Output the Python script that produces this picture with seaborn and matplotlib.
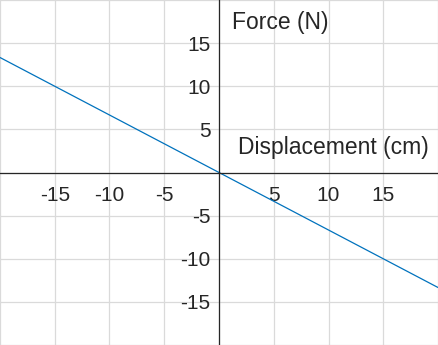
import matplotlib
matplotlib.use("Agg")
import matplotlib.pyplot as plt
import seaborn as sns
import pandas as pd
from matplotlib.ticker import FixedLocator, FuncFormatter

# Data
displacement_cm = [-20, 20]
force_N = [13.333, -13.333]
tick_values = [-15, -10, -5, 5, 10, 15]
x_label = "Displacement (cm)"
y_label = "Force (N)"

sns.set_theme(style="white")
plt.rcParams['font.family'] = ['Liberation Sans', 'DejaVu Sans']
plt.rcParams['axes.unicode_minus'] = False

df = pd.DataFrame({"x": displacement_cm, "y": force_N})

fig = plt.figure(figsize=(4.38, 3.45), dpi=100)
ax = fig.add_axes([0, 0, 1, 1])
sns.lineplot(data=df, x="x", y="y", ax=ax, color="#0072BD", linewidth=0.9)

ax.set_xlim(-20, 20)
ax.set_ylim(-20, 20)
ax.set_xlabel("")
ax.set_ylabel("")

for s in ["top", "right"]:
    ax.spines[s].set_visible(False)
for s in ["left", "bottom"]:
    ax.spines[s].set_position(("data", 0))
    ax.spines[s].set_color("#262626")
    ax.spines[s].set_linewidth(0.9)

ax.xaxis.set_major_locator(FixedLocator(tick_values))
ax.yaxis.set_major_locator(FixedLocator(tick_values))
ax.xaxis.set_minor_locator(FixedLocator([-20, 0, 20]))
ax.yaxis.set_minor_locator(FixedLocator([-20, 0, 20]))
fmt = FuncFormatter(lambda v, p: f"{int(v)}")
ax.xaxis.set_major_formatter(fmt)
ax.yaxis.set_major_formatter(fmt)

ax.tick_params(axis="both", which="major", direction="in", length=3.5, width=0.8,
               color="#262626", labelsize=15, labelcolor="#262626")
ax.tick_params(axis="both", which="minor", length=0)
ax.tick_params(axis="x", which="major", pad=10)
ax.tick_params(axis="y", which="major", pad=6)

ax.grid(True, which="both", color="#DADADA", linewidth=0.9)
ax.set_axisbelow(True)

ax.text(1.2, 17.4, y_label, fontsize=16.5, color="#262626", ha="left", va="center")
ax.text(19.2, 2.9, x_label, fontsize=16.5, color="#262626", ha="right", va="center")

fig.savefig("out.png", dpi=100)
